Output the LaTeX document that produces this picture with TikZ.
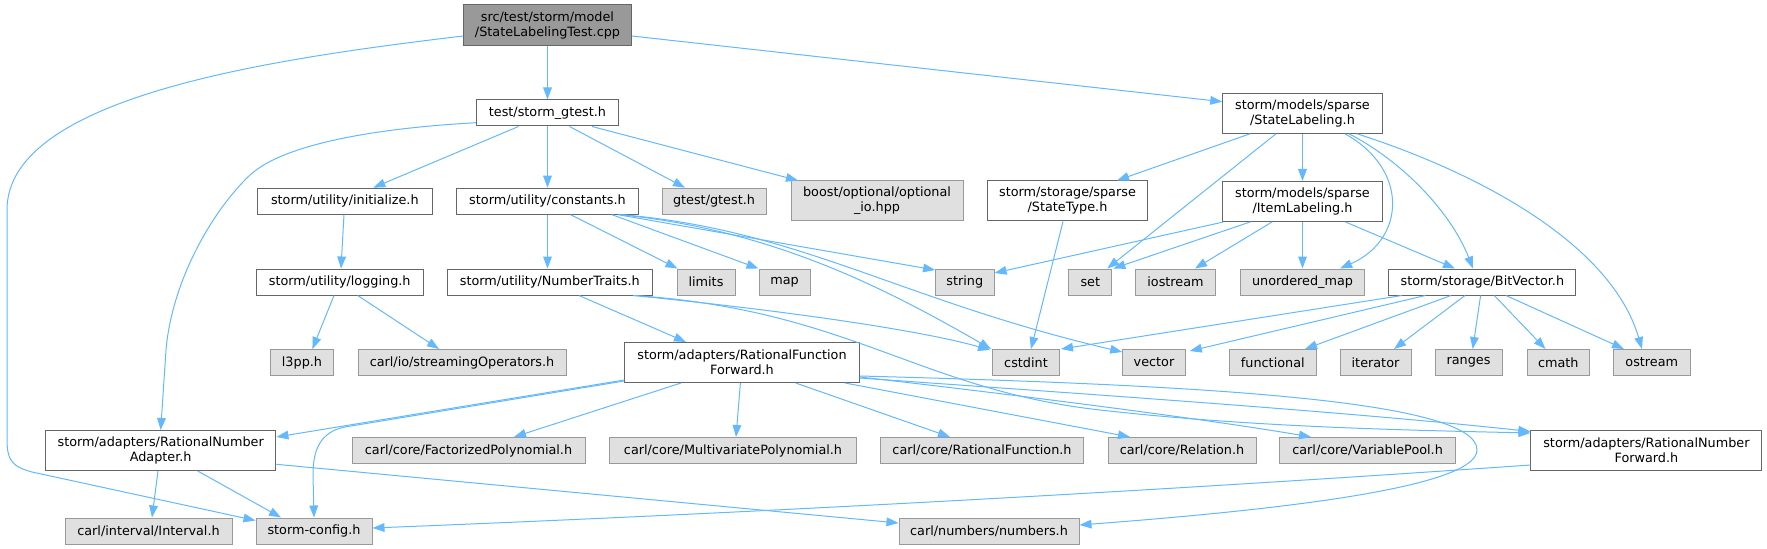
\documentclass[tikz,border=0pt]{standalone}
\usepackage{fontspec}
\setmainfont{DejaVu Sans}
\usetikzlibrary{arrows.meta,calc}
\definecolor{edgec}{HTML}{63B8FF}
\definecolor{grayfill}{HTML}{E0E0E0}
\definecolor{graydraw}{HTML}{999999}
\definecolor{darkdraw}{HTML}{666666}
\definecolor{rootfill}{HTML}{999999}
\begin{document}
\begin{tikzpicture}[x=0.75pt,y=-0.75pt,font=\fontsize{9.6}{11.25}\selectfont,
  box/.style={draw=darkdraw,fill=white,line width=0.75pt,inner sep=0pt,align=center,minimum height=19.5pt},
  sys/.style={box,draw=graydraw,fill=grayfill},
  two/.style={minimum height=30pt},
  bw/.style={minimum width=#1*0.75pt},
  rootbox/.style={box,fill=rootfill},
  dep/.style={draw=edgec,line width=0.75pt,-{Triangle[length=9pt,width=6.5pt]}}]
\useasboundingbox (0,0) rectangle (1767,549);
% nodes
\node[rootbox,bw=168,minimum height=30.5pt] (root) at (547.5,25.3) {src/test/storm/model\\/StateLabelingTest.cpp};
\node[box,bw=142] (sg) at (547.5,113) {test/storm\_gtest.h};
\node[box,two,bw=159.4] (SL) at (1302.5,113.3) {storm/models/sparse\\/StateLabeling.h};
\node[box,bw=175] (init) at (344.8,201.2) {storm/utility/initialize.h};
\node[box,bw=181.6] (const) at (547.5,201.2) {storm/utility/constants.h};
\node[sys,bw=104] (gt) at (714,201.2) {gtest/gtest.h};
\node[sys,two,bw=172] (boost) at (877,201) {boost/optional/optional\\\_io.hpp};
\node[box,two,bw=160] (ST) at (1067.5,201) {storm/storage/sparse\\/StateType.h};
\node[box,two,bw=159.4] (IL) at (1302.5,201.5) {storm/models/sparse\\/ItemLabeling.h};
\node[box,bw=167] (log) at (339.7,282) {storm/utility/logging.h};
\node[box,bw=205] (NT) at (549.8,282) {storm/utility/NumberTraits.h};
\node[sys,bw=58] (limits) at (706,282) {limits};
\node[sys,bw=51] (map) at (784.5,282) {map};
\node[sys,bw=58.4] (string) at (964.8,282) {string};
\node[sys,bw=43] (set) at (1090.3,282) {set};
\node[sys,bw=80] (iostream) at (1175.5,282) {iostream};
\node[sys,bw=124] (umap) at (1302.5,282) {unordered\_map};
\node[box,bw=187] (BV) at (1482.4,282) {storm/storage/BitVector.h};
\node[sys,bw=62.4] (l3pp) at (302,362.5) {l3pp.h};
\node[sys,bw=208] (stream) at (462,362.5) {carl/io/streamingOperators.h};
\node[box,two,bw=234.7] (RFF) at (742,362.5) {storm/adapters/RationalFunction\\Forward.h};
\node[sys,bw=67] (cstdint) at (1026,362.5) {cstdint};
\node[sys,bw=62.5] (vector) at (1154,362.5) {vector};
\node[sys,bw=87] (functional) at (1272.8,362.5) {functional};
\node[sys,bw=71] (iterator) at (1375.5,362.5) {iterator};
\node[sys,bw=67] (ranges) at (1468.5,362.5) {ranges};
\node[sys,bw=62.6] (cmath) at (1558.3,362.5) {cmath};
\node[sys,bw=76.7] (ostream) at (1651.8,362.5) {ostream};
\node[box,two,bw=230.5] (RNA) at (160.7,450.5) {storm/adapters/RationalNumber\\Adapter.h};
\node[sys,bw=233] (fact) at (468.5,450.5) {carl/core/FactorizedPolynomial.h};
\node[sys,bw=246.7] (multi) at (733,450.5) {carl/core/MultivariatePolynomial.h};
\node[sys,bw=202.5] (crf) at (982,450.5) {carl/core/RationalFunction.h};
\node[sys,bw=148] (rel) at (1182,450.5) {carl/core/Relation.h};
\node[sys,bw=175.4] (vpool) at (1367.6,450.5) {carl/core/VariablePool.h};
\node[box,two,bw=231] (RNF) at (1646.4,450.5) {storm/adapters/RationalNumber\\Forward.h};
\node[sys,bw=167] (interval) at (148.5,531) {carl/interval/Interval.h};
\node[sys,bw=116] (config) at (314,531) {storm-config.h};
\node[sys,bw=180] (numbers) at (989,531) {carl/numbers/numbers.h};
% edges from root
\draw[dep] (root.south) -- (sg.north);
\draw[dep] ($(root.east)+(0,10.7)$) -- ($(SL.west)+(0,-11.6)$);
\draw[dep] ($(root.west)+(0,10.7)$) .. controls (280,58) and (7,95) .. (7,210) -- (7,440) .. controls (7,462) and (14,467) .. (32,472) -- ($(config.north west)+(0,3)$);
% storm_gtest
\draw[dep] ($(sg.south)+(-29,0)$) -- ($(init.north)+(28.5,0)$);
\draw[dep] (sg.south) -- (const.north);
\draw[dep] ($(sg.south)+(22,0)$) -- ($(gt.north)+(-29,0)$);
\draw[dep] ($(sg.south)+(44.5,0)$) -- ($(boost.north)+(-79,0)$);
\draw[dep] ($(sg.west)+(0,9.7)$) .. controls (380,128) and (285,143) .. (250,175) .. controls (213,210) and (172,280) .. (166,350) -- (RNA.north);
% StateLabeling
\draw[dep] ($(SL.south)+(-52.5,0)$) -- ($(ST.north)+(49.5,0)$);
\draw[dep] ($(SL.south)+(-26.5,0)$) -- ($(set.north east)+(-5,0)$);
\draw[dep] (SL.south) -- (IL.north);
\draw[dep] ($(SL.south)+(42.5,0)$) .. controls (1410,170) and (1405,240) .. ($(umap.north)+(37.5,0)$);
\draw[dep] ($(SL.south)+(46.5,0)$) .. controls (1400,160) and (1450,210) .. ($(BV.north)+(-9.4,0)$);
\draw[dep] ($(SL.south)+(54.5,0)$) .. controls (1470,170) and (1610,240) .. ($(ostream.north)+(-9.8,0)$);
% ItemLabeling
\draw[dep] ($(IL.south west)+(1,0)$) -- ($(string.east)+(0,-9)$);
\draw[dep] ($(IL.south)+(-52.5,0)$) -- ($(set.north east)+(1,0)$);
\draw[dep] ($(IL.south)+(-30.5,0)$) -- ($(iostream.north)+(19.5,0)$);
\draw[dep] (IL.south) -- (umap.north);
\draw[dep] ($(IL.south)+(43,0)$) -- ($(BV.north)+(-27.4,0)$);
% StateType
\draw[dep] ($(ST.south)+(-4.5,0)$) -- ($(cstdint.north)+(5,0)$);
% initialize, logging
\draw[dep] ($(init.south)+(-0.8,0)$) -- ($(log.north)+(1.3,0)$);
\draw[dep] ($(log.south)+(-5.7,0)$) -- ($(l3pp.north)+(10.4,0)$);
\draw[dep] ($(log.south)+(18,0)$) -- ($(stream.north)+(-23,0)$);
% constants
\draw[dep] (const.south) -- ($(NT.north)+(-2.3,0)$);
\draw[dep] ($(const.south)+(23.2,0)$) -- ($(limits.north west)+(1,0)$);
\draw[dep] ($(const.south)+(64.5,0)$) -- (map.north west);
\draw[dep] ($(const.south)+(70.5,0)$) -- ($(string.north west)+(0,1.5)$);
\draw[dep] ($(const.south)+(72.5,0)$) .. controls (770,230) and (880,285) .. ($(cstdint.north west)+(-1,0)$);
\draw[dep] ($(const.south)+(74.5,0)$) .. controls (800,230) and (900,300) .. ($(vector.west)+(0,-10.5)$);
% NumberTraits
\draw[dep] ($(NT.south)+(29.2,0)$) -- ($(RFF.north)+(-56,0)$);
\draw[dep] ($(NT.south)+(83.2,0)$) .. controls (780,310) and (920,330) .. ($(cstdint.north west)+(-2,1)$);
\draw[dep] ($(NT.south)+(84.2,0)$) .. controls (850,310) and (920,390) .. (1100,410) .. controls (1250,427) and (1400,430) .. ($(RNF.west)+(0,-17.5)$);
% BitVector
\draw[dep] ($(BV.south)+(-80.4,0)$) -- ($(cstdint.north east)+(1,0)$);
\draw[dep] ($(BV.south)+(-57,0)$) -- ($(vector.north east)+(4,2)$);
\draw[dep] ($(BV.south)+(-31.4,0)$) -- ($(functional.north)+(32.2,0)$);
\draw[dep] ($(BV.south)+(-17.4,0)$) -- ($(iterator.north)+(18.5,0)$);
\draw[dep] ($(BV.south)+(-1.8,0)$) -- ($(ranges.north)+(4.2,0)$);
\draw[dep] ($(BV.south)+(11.9,0)$) -- ($(cmath.north)+(-12.8,0)$);
\draw[dep] ($(BV.south)+(23.6,0)$) -- ($(ostream.north)+(-27.8,0)$);
% RationalFunctionForward
\draw[dep] ($(RFF.west)+(0,17.5)$) -- ($(RNA.east)+(0,-13.5)$);
\draw[dep] ($(RFF.west)+(0,18.5)$) -- (345,427) .. controls (320,432) and (313,450) .. (313,475) -- (config.north);
\draw[dep] ($(RFF.south)+(-61,0)$) -- ($(fact.north)+(45.5,0)$);
\draw[dep] ($(RFF.south)+(-1.6,0)$) -- ($(multi.north)+(3,0)$);
\draw[dep] ($(RFF.south)+(53.7,0)$) -- ($(crf.north)+(-32,0)$);
\draw[dep] ($(RFF.south)+(103,0)$) -- ($(rel.north)+(-52,0)$);
\draw[dep] ($(RFF.east)+(0,14.5)$) .. controls (1000,393) and (1200,418) .. ($(vpool.north)+(-56.6,0)$);
\draw[dep] ($(RFF.east)+(0,15.5)$) .. controls (1100,395) and (1350,412) .. ($(RNF.west)+(0,-19)$);
\draw[dep] ($(RFF.east)+(0,13.5)$) .. controls (1200,385) and (1477,400) .. (1477,450) .. controls (1477,490) and (1250,512) .. ($(numbers.east)+(0,-6)$);
% RationalNumberAdapter
\draw[dep] ($(RNA.south)+(-2.7,0)$) -- ($(interval.north)+(3.5,0)$);
\draw[dep] ($(RNA.south)+(37,0)$) -- ($(config.north)+(-33,0)$);
\draw[dep] ($(RNA.east)+(0,13.8)$) -- ($(numbers.west)+(0,-8)$);
% RationalNumberForward
\draw[dep] ($(RNF.west)+(0,14.5)$) .. controls (1100,495) and (700,515) .. ($(config.east)+(0,-3)$);
\end{tikzpicture}
\end{document}
